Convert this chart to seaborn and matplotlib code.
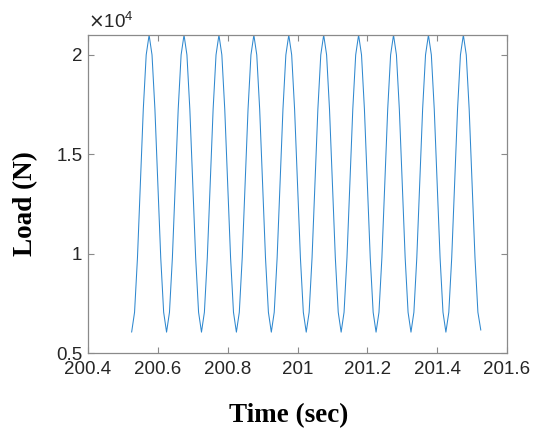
import numpy as np
import pandas as pd
import matplotlib
matplotlib.use("Agg")
import matplotlib.pyplot as plt
import seaborn as sns
from matplotlib.ticker import FuncFormatter

# ---- data ----
t_start = 200.525
t_step = 1.0 / 120.0
load = [
    6050, 7050, 9790, 13525, 17260, 20000, 21000, 20000, 17260, 13525, 9790, 7050,
    6050, 7050, 9790, 13525, 17260, 20000, 21000, 20000, 17260, 13525, 9790, 7050,
    6050, 7050, 9790, 13525, 17260, 20000, 21000, 20000, 17260, 13525, 9790, 7050,
    6050, 7050, 9790, 13525, 17260, 20000, 21000, 20000, 17260, 13525, 9790, 7050,
    6050, 7050, 9790, 13525, 17260, 20000, 21000, 20000, 17260, 13525, 9790, 7050,
    6050, 7050, 9790, 13525, 17260, 20000, 21000, 20000, 17260, 13525, 9790, 7050,
    6050, 7050, 9790, 13525, 17260, 20000, 21000, 20000, 17260, 13525, 9790, 7050,
    6050, 7050, 9790, 13525, 17260, 20000, 21000, 20000, 17260, 13525, 9790, 7050,
    6050, 7050, 9790, 13525, 17260, 20000, 21000, 20000, 17260, 13525, 9790, 7050,
    6050, 7050, 9790, 13525, 17260, 20000, 21000, 20000, 17260, 13525, 9790, 7050,
    6150,
]
time = [t_start + i * t_step for i in range(len(load))]
x_ticks = [200.4, 200.6, 200.8, 201.0, 201.2, 201.4, 201.6]
y_ticks = [5000, 10000, 15000, 20000]
x_label = "Time (sec)"
y_label = "Load (N)"

df = pd.DataFrame({"time": time, "load": load})

sns.set_style("white")
plt.rcParams["font.family"] = ["Liberation Sans", "DejaVu Sans"]

fig = plt.figure(figsize=(5.42, 4.34), dpi=100)
ax = fig.add_axes([88 / 542, 1 - 353 / 434, (507 - 88) / 542, (353 - 35) / 434])

sns.lineplot(data=df, x="time", y="load", ax=ax, color="#2f88cf", linewidth=0.75)

ax.set_xlim(200.4, 201.6)
ax.set_ylim(5000, 21000)
ax.set_xticks(x_ticks)
ax.set_yticks(y_ticks)
ax.xaxis.set_major_formatter(FuncFormatter(lambda v, p: f"{v:g}"))
ax.yaxis.set_major_formatter(FuncFormatter(lambda v, p: f"{v / 1e4:g}"))

edge = "#8a8a8a"
for s in ax.spines.values():
    s.set_visible(True)
    s.set_color(edge)
    s.set_linewidth(0.9)

ax.tick_params(axis="both", which="major", direction="in", length=4, width=0.8,
               color=edge, labelsize=13.5, labelcolor="#262626",
               top=True, right=True, bottom=True, left=True)
ax.tick_params(axis="x", pad=6)
ax.tick_params(axis="y", pad=4)

ax.set_xlabel("")
ax.set_ylabel("")
fig.text(289 / 542, 1 - 416 / 434, x_label, fontfamily="Liberation Serif",
         fontweight="bold", fontsize=19.5, color="black", ha="center", va="center")
fig.text(26 / 542, 1 - 204 / 434, y_label, fontfamily="Liberation Serif",
         fontweight="bold", fontsize=19.5, color="black", ha="center", va="center",
         rotation=90)

ax.text(0.0, 1.01, r"$\times\mathregular{10^{4}}$", transform=ax.transAxes,
        fontsize=13.5, color="#262626", ha="left", va="bottom")

fig.savefig("out.png", dpi=100)
